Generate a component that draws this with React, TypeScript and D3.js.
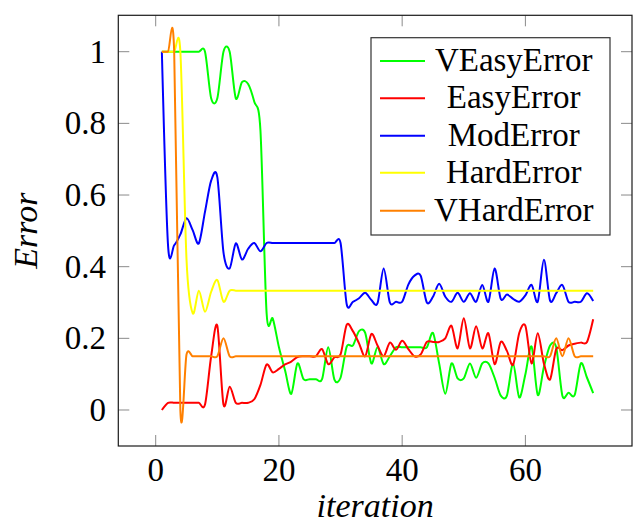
import React from "react";
import * as d3 from "d3";

const iterations = [
  1, 2, 3, 4, 5, 6, 7, 8, 9, 10, 11, 12, 13, 14, 15, 16, 17, 18, 19, 20,
  21, 22, 23, 24, 25, 26, 27, 28, 29, 30, 31, 32, 33, 34, 35, 36, 37, 38, 39, 40,
  41, 42, 43, 44, 45, 46, 47, 48, 49, 50, 51, 52, 53, 54, 55, 56, 57, 58, 59, 60,
  61, 62, 63, 64, 65, 66, 67, 68, 69, 70, 71,
];

const vEasyError = [
  1, 1, 1, 1, 1, 1, 1, 1, 0.87, 0.87, 1.0, 1.0, 0.87, 0.915, 0.91, 0.86, 0.78, 0.27, 0.255, 0.175,
  0.11, 0.045, 0.13, 0.086, 0.086, 0.086, 0.086, 0.175, 0.085, 0.09, 0.177, 0.18, 0.22, 0.215, 0.13, 0.175, 0.128, 0.15, 0.175, 0.175,
  0.175, 0.175, 0.175, 0.175, 0.215, 0.13, 0.045, 0.13, 0.088, 0.088, 0.13, 0.09, 0.13, 0.13, 0.09, 0.04, 0.04, 0.13, 0.035, 0.1,
  0.177, 0.042, 0.12, 0.18, 0.175, 0.04, 0.048, 0.042, 0.13, 0.09, 0.047,
];

const easyError = [
  0, 0.02, 0.02, 0.02, 0.02, 0.02, 0.02, 0.015, 0.15, 0.235, 0.015, 0.065, 0.02, 0.02, 0.02, 0.03, 0.07, 0.127, 0.105, 0.115,
  0.127, 0.135, 0.148, 0.15, 0.15, 0.15, 0.17, 0.128, 0.147, 0.155, 0.238, 0.22, 0.186, 0.15, 0.212, 0.18, 0.15, 0.188, 0.168, 0.193,
  0.17, 0.15, 0.155, 0.19, 0.19, 0.19, 0.2, 0.235, 0.172, 0.256, 0.172, 0.234, 0.172, 0.214, 0.128, 0.19, 0.165, 0.126, 0.215, 0.235,
  0.13, 0.214, 0.13, 0.085, 0.17, 0.167, 0.18, 0.185, 0.188, 0.19, 0.253,
];

const modError = [
  1.0, 0.46, 0.46, 0.49, 0.535, 0.502, 0.465, 0.553, 0.64, 0.65, 0.44, 0.395, 0.465, 0.42, 0.45, 0.466, 0.443, 0.466, 0.466, 0.466,
  0.466, 0.466, 0.466, 0.466, 0.466, 0.466, 0.466, 0.466, 0.466, 0.466, 0.295, 0.302, 0.312, 0.327, 0.307, 0.298, 0.395, 0.3, 0.302, 0.302,
  0.35, 0.375, 0.375, 0.3, 0.316, 0.352, 0.316, 0.302, 0.327, 0.302, 0.326, 0.302, 0.349, 0.302, 0.395, 0.31, 0.322, 0.31, 0.302, 0.32,
  0.349, 0.302, 0.419, 0.305, 0.326, 0.349, 0.302, 0.302, 0.302, 0.326, 0.304,
];

const hardError = [
  1, 1, 1, 1, 0.42, 0.27, 0.333, 0.274, 0.33, 0.363, 0.302, 0.333, 0.333, 0.333, 0.333, 0.333, 0.333, 0.333, 0.333, 0.333,
  0.333, 0.333, 0.333, 0.333, 0.333, 0.333, 0.333, 0.333, 0.333, 0.333, 0.333, 0.333, 0.333, 0.333, 0.333, 0.333, 0.333, 0.333, 0.333, 0.333,
  0.333, 0.333, 0.333, 0.333, 0.333, 0.333, 0.333, 0.333, 0.333, 0.333, 0.333, 0.333, 0.333, 0.333, 0.333, 0.333, 0.333, 0.333, 0.333, 0.333,
  0.333, 0.333, 0.333, 0.333, 0.333, 0.333, 0.333, 0.333, 0.333, 0.333, 0.333,
];

const vHardError = [
  1, 1, 1, 0, 0.155, 0.15, 0.15, 0.15, 0.15, 0.15, 0.2, 0.15, 0.15, 0.15, 0.15, 0.15, 0.15, 0.15, 0.15, 0.15,
  0.15, 0.15, 0.15, 0.15, 0.15, 0.15, 0.15, 0.15, 0.15, 0.15, 0.15, 0.15, 0.15, 0.15, 0.15, 0.15, 0.15, 0.15, 0.15, 0.15,
  0.15, 0.15, 0.15, 0.15, 0.15, 0.15, 0.15, 0.15, 0.15, 0.15, 0.15, 0.15, 0.15, 0.15, 0.15, 0.15, 0.15, 0.15, 0.15, 0.15,
  0.15, 0.15, 0.15, 0.15, 0.2, 0.15, 0.2, 0.15, 0.15, 0.15, 0.15,
];

const seriesNames = ["VEasyError", "EasyError", "ModError", "HardError", "VHardError"];
const seriesValues = [vEasyError, easyError, modError, hardError, vHardError];
const seriesColors = ["#00ff00", "#ff0000", "#0000ff", "#ffff00", "#ff8000"];

const xTicks = [0, 20, 40, 60];
const yTicks = [0, 0.2, 0.4, 0.6, 0.8, 1];
const yTickLabels = ["0", "0.2", "0.4", "0.6", "0.8", "1"];

const W = 633;
const H = 523;
const left = 118.3;
const right = 632;
const top = 15.3;
const bottom = 446;

const FONT = "'Liberation Serif', 'Times New Roman', serif";

export default function App() {
  const x = d3.scaleLinear().domain([-6.07, 77.3]).range([left, right]);
  const y = d3.scaleLinear().domain([-0.1005, 1.1016]).range([bottom, top]);

  const line = d3
    .line<number>()
    .x((_, i) => x(iterations[i]))
    .y((d) => y(d))
    .curve(d3.curveCardinal.tension(0.1));

  const tickLen = 11;
  const legX = 371;
  const legY = 37.7;
  const legW = 239;
  const legH = 197.3;
  const rowY = [61, 98.3, 135.7, 172.7, 210.7];

  return (
    <svg
      width={W}
      height={H}
      style={{ position: "absolute", left: 0, top: 0, display: "block", background: "#fff" }}
    >
      <rect x={0} y={0} width={W} height={H} fill="#fff" />
      <defs>
        <clipPath id="plotclip">
          <rect x={left} y={top} width={right - left} height={bottom - top} />
        </clipPath>
      </defs>
      {/* ticks */}
      <g stroke="#8a8a8a" strokeWidth={1}>
        {xTicks.map((t) => (
          <g key={"xt" + t}>
            <line x1={x(t)} x2={x(t)} y1={bottom} y2={bottom - tickLen} />
            <line x1={x(t)} x2={x(t)} y1={top} y2={top + tickLen} />
          </g>
        ))}
        {yTicks.map((t) => (
          <g key={"yt" + t}>
            <line x1={left} x2={left + tickLen} y1={y(t)} y2={y(t)} />
            <line x1={right} x2={right - tickLen} y1={y(t)} y2={y(t)} />
          </g>
        ))}
      </g>
      {/* series */}
      <g clipPath="url(#plotclip)" fill="none" strokeWidth={2} strokeLinejoin="round">
        {seriesValues.map((vals, i) => (
          <path key={seriesNames[i]} d={line(vals) || ""} stroke={seriesColors[i]} />
        ))}
      </g>
      {/* frame */}
      <rect
        x={left}
        y={top}
        width={right - left}
        height={bottom - top}
        fill="none"
        stroke="#1a1a1a"
        strokeWidth={1.2}
      />
      {/* tick labels */}
      <g fontFamily={FONT} fontSize={33} fill="#000">
        {xTicks.map((t) => (
          <text key={"xl" + t} x={x(t)} y={481} textAnchor="middle">
            {t}
          </text>
        ))}
        {yTicks.map((t, i) => (
          <text key={"yl" + t} x={106} y={y(t) + 11} textAnchor="end">
            {yTickLabels[i]}
          </text>
        ))}
      </g>
      {/* axis labels */}
      <text
        x={(left + right) / 2}
        y={517}
        textAnchor="middle"
        fontFamily={FONT}
        fontStyle="italic"
        fontSize={34}
      >
        iteration
      </text>
      <text
        transform={`translate(37, ${(top + bottom) / 2}) rotate(-90)`}
        textAnchor="middle"
        fontFamily={FONT}
        fontStyle="italic"
        fontSize={34}
      >
        Error
      </text>
      {/* legend */}
      <rect x={legX} y={legY} width={legW} height={legH} fill="#fff" stroke="#333" strokeWidth={1.2} />
      {seriesNames.map((name, i) => (
        <g key={"lg" + name}>
          <line x1={380} x2={425} y1={rowY[i]} y2={rowY[i]} stroke={seriesColors[i]} strokeWidth={2} />
          <text x={513.7} y={rowY[i] + 10} textAnchor="middle" fontFamily={FONT} fontSize={33}>
            {name}
          </text>
        </g>
      ))}
    </svg>
  );
}
